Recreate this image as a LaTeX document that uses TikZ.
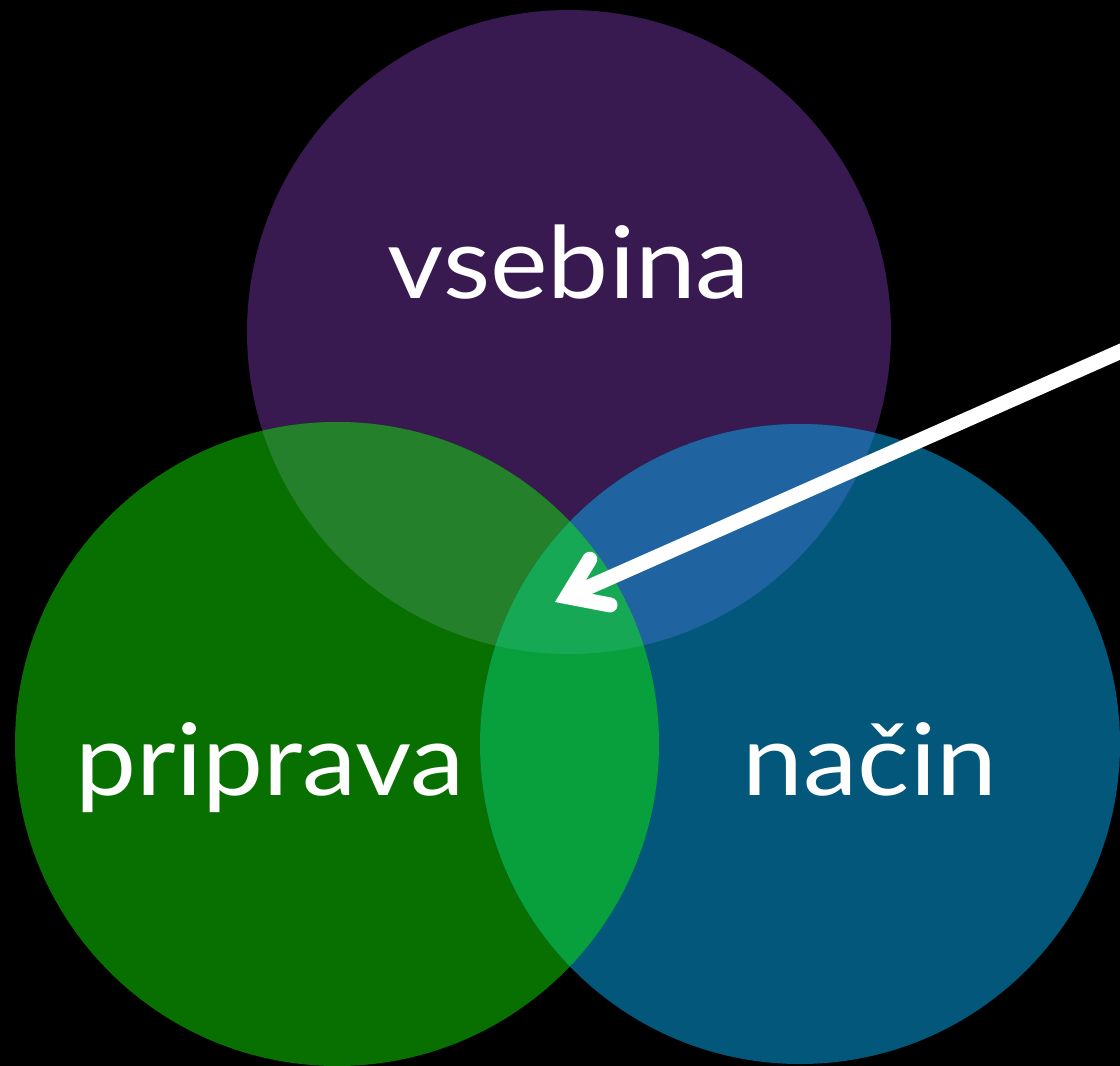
\documentclass[tikz,border=0pt]{standalone}
\usepackage{fontspec}
\setmainfont{Lato}[FakeStretch=1.09]
\usetikzlibrary{arrows.meta}
\definecolor{cpurple}{HTML}{381A50}
\definecolor{cgreen}{HTML}{087000}
\definecolor{cblue}{HTML}{03577A}
\definecolor{cpg}{HTML}{24802A}
\definecolor{cpb}{HTML}{1F64A0}
\definecolor{cgb}{HTML}{07A03C}
\definecolor{call}{HTML}{17A855}
\tikzset{
  label text/.style={text=white, font=\fontsize{100pt}{100pt}\selectfont, anchor=base, inner sep=0pt},
  pointer/.style={draw=white, line width=15pt, line cap=round, -{Straight Barb[length=36pt,width=50pt,line cap=round,line join=miter]}}
}
\begin{document}
\begin{tikzpicture}[x=1pt,y=-1pt]
\fill[black] (0,0) rectangle (1120,1066);
\useasboundingbox (0,0) rectangle (1120,1066);
\coordinate (cp) at (569,332);
\coordinate (cg) at (337,744);
\coordinate (cb) at (800,744);
\def\circP{(cp) circle[radius=322pt]}
\def\circG{(cg) circle[radius=322pt]}
\def\circB{(cb) circle[radius=320pt]}
\fill[cpurple] \circP;
\fill[cgreen] \circG;
\fill[cblue] \circB;
\begin{scope}
  \clip \circP;
  \fill[cpg] \circG;
  \fill[cpb] \circB;
\end{scope}
\begin{scope}
  \clip \circG;
  \fill[cgb] \circB;
\end{scope}
\begin{scope}
  \clip \circP;
  \clip \circG;
  \fill[call] \circB;
\end{scope}
\node[label text] (vsebina) at (569,298) {vsebina};
\node[label text] (priprava) at (270,795) {priprava};
\node[label text] (nacin) at (870,795) {način};
\coordinate (arrowstart) at (1135,345);
\coordinate (arrowtip) at (555,602);
\draw[pointer] (arrowstart) -- (arrowtip);
\end{tikzpicture}
\end{document}
